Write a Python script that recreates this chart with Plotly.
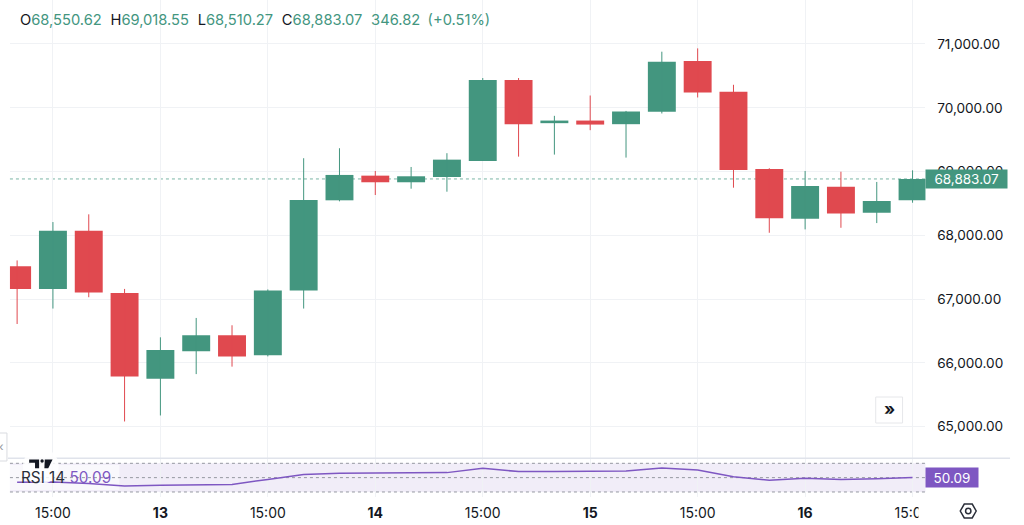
import plotly.graph_objects as go
import pandas as pd
import math

# ---------------- data ----------------
times = list(pd.date_range("2024-06-12 11:00", periods=26, freq="4h"))

opens = [67515, 67158, 68070, 67095, 65750, 66179, 66431, 66116, 67133, 68548,
         68935, 68831, 68914, 69166, 70434, 69758, 69799, 69742, 69936, 70733,
         70250, 69040, 68259, 68762, 68353, 68550.62]
highs = [67605, 68207, 68328, 67158, 66399, 66703, 66588, 67150, 69208, 69365,
         69008, 69071, 69287, 70466, 70466, 69873, 70192, 69950, 70879, 70931,
         70360, 69051, 69008, 68997, 68836, 69018.55]
lows = [66608, 66850, 67028, 65079, 65173, 65822, 65939, 66100, 66850, 68532,
        68631, 68730, 68683, 69166, 69233, 69265, 69648, 69218, 69910, 70161,
        68746, 68039, 68092, 68117, 68191, 68510.27]
closes = [67158, 68070, 67102, 65786, 66200, 66431, 66100, 67133, 68553, 68946,
          68831, 68925, 69186, 70434, 69742, 69799, 69736, 69941, 70722, 70239,
          69024, 68265, 68773, 68343, 68536.25, 68883.07]
rsi = [43.5, 44.0, 42.0, 38.5, 39.3, 40.0, 40.6, 47.5, 54.5, 56.0,
       56.3, 56.5, 57.0, 63.1, 58.4, 58.5, 58.4, 59.3, 63.6, 60.7,
       51.4, 46.4, 49.0, 47.3, 48.5, 50.09]

tick_idx = [1, 4, 7, 10, 13, 16, 19, 22, 25]
tick_labels = ["15:00", "<b>13</b>", "15:00", "<b>14</b>", "15:00",
               "<b>15</b>", "15:00", "<b>16</b>", "15:00"]
price_ticks = [65000, 66000, 67000, 68000, 69000, 70000, 71000]
rsi_levels = [30, 50, 70]

# ---------------- style ----------------
W, H = 1024, 525
UP = "#43967f"
DOWN = "#e0494f"
PURPLE = "#7e57c2"
TXT = "#131722"
GRID = "#f0f2f5"
FONT = "Inter"
step = pd.Timedelta(hours=4)

X0, X1 = 10 / W, 930 / W
def py(p):  # pixel y -> paper y
    return 1 - p / H
def px(p):
    return p / W

colors = [UP if c >= o else DOWN for o, c in zip(opens, closes)]
base = [min(o, c) for o, c in zip(opens, closes)]
body = [abs(c - o) for o, c in zip(opens, closes)]

fig = go.Figure()

# wicks
for col in (UP, DOWN):
    xs, ys = [], []
    for t, o, h, l, c in zip(times, opens, highs, lows, closes):
        if (c >= o) == (col == UP):
            xs += [t, t, None]
            ys += [l, h, None]
    fig.add_trace(go.Scatter(x=xs, y=ys, mode="lines", line=dict(color=col, width=1),
                             hoverinfo="skip", xaxis="x", yaxis="y"))

# bodies
fig.add_trace(go.Bar(x=times, y=body, base=base,
                     width=0.78 * step.total_seconds() * 1000,
                     marker=dict(color=colors, line=dict(width=0)),
                     xaxis="x", yaxis="y"))

# RSI
fig.add_trace(go.Scatter(x=times, y=rsi, mode="lines",
                         line=dict(color=PURPLE, width=1.5),
                         xaxis="x2", yaxis="y2"))

xr = [str(times[0] - 0.2 * step), str(times[0] + 25.36 * step)]
tickvals = [times[i] for i in tick_idx]

shapes = []
# RSI band
shapes.append(dict(type="rect", xref="paper", yref="y2", x0=X0, x1=X1,
                   y0=rsi_levels[0], y1=rsi_levels[-1],
                   fillcolor="rgba(126,87,194,0.11)", line=dict(width=0), layer="below"))
# RSI legend background
shapes.append(dict(type="rect", xref="paper", yref="paper", x0=X0, x1=px(120),
                   y0=py(490), y1=py(465), fillcolor="rgba(255,255,255,0.6)",
                   line=dict(width=0), layer="below"))
for lv in rsi_levels:
    shapes.append(dict(type="line", xref="paper", yref="y2", x0=X0, x1=X1, y0=lv, y1=lv,
                       line=dict(color="#9598a1", width=1, dash="3px,3px"), layer="below"))
# last price dotted line
shapes.append(dict(type="line", xref="paper", yref="y", x0=X0, x1=X1,
                   y0=closes[-1], y1=closes[-1],
                   line=dict(color="rgba(67,150,127,0.7)", width=1, dash="dot"), layer="below"))
# pane separator
shapes.append(dict(type="line", xref="paper", yref="paper", x0=px(8), x1=px(1015),
                   y0=py(458.3), y1=py(458.3), line=dict(color="#e0e3eb", width=1.5)))
# left collapse tab
shapes.append(dict(type="rect", xref="paper", yref="paper", x0=px(-4), x1=px(7),
                   y0=py(461), y1=py(433), fillcolor="white",
                   line=dict(color="#d9dbe0", width=1)))
# >> button
shapes.append(dict(type="rect", xref="paper", yref="paper", x0=px(880), x1=px(907),
                   y0=py(423), y1=py(397), fillcolor="white",
                   line=dict(color="#e6e7ea", width=1)))
# TradingView logo
shapes.append(dict(type="circle", xref="paper", yref="paper", x0=px(23), x1=px(59),
                   y0=py(484), y1=py(448), fillcolor="rgba(255,255,255,0.85)",
                   line=dict(width=0)))
def path(pts):
    return "M " + " L ".join(f"{px(a)},{py(b)}" for a, b in pts) + " Z"
shapes.append(dict(type="path", xref="paper", yref="paper",
                   path=path([(29.3, 459.5), (39.3, 459.5), (39.3, 468.3), (35.2, 468.3),
                              (35.2, 462.7), (29.3, 462.7)]),
                   fillcolor="#131722", line=dict(width=0)))
shapes.append(dict(type="circle", xref="paper", yref="paper", x0=px(40.6), x1=px(44.0),
                   y0=py(462.7), y1=py(459.3), fillcolor="#131722", line=dict(width=0)))
shapes.append(dict(type="path", xref="paper", yref="paper",
                   path=path([(45, 459.5), (52.8, 459.5), (48.5, 468.3), (44.6, 468.3)]),
                   fillcolor="#131722", line=dict(width=0)))
# settings icon (hexagon + circle)
cx, cy, r = 973, 511, 8
hexpts = [(cx + r * math.cos(math.radians(a)), cy + r * math.sin(math.radians(a)))
          for a in range(0, 360, 60)]
shapes.append(dict(type="path", xref="paper", yref="paper", path=path(hexpts),
                   line=dict(color="#2a2e39", width=1.5)))
shapes.append(dict(type="circle", xref="paper", yref="paper", x0=px(cx - 2.7), x1=px(cx + 2.7),
                   y0=py(cy + 2.7), y1=py(cy - 2.7), line=dict(color="#2a2e39", width=1.5)))

# annotations
def fmt(v):
    return f"{v:,.2f}"
chg = closes[-1] - closes[-2]
pct = chg / closes[-2] * 100
g = lambda s: f"<span style='color:{UP}'>{s}</span>"
sp = "\u2002\u200a"
legend_txt = (f"O{g(fmt(opens[-1]))}{sp}H{g(fmt(highs[-1]))}{sp}L{g(fmt(lows[-1]))}{sp}"
              f"C{g(fmt(closes[-1]))}{sp}{g(f'{chg:,.2f}' + chr(0x2002) + f'({pct:+.2f}%)')}")

annotations = [
    dict(xref="paper", yref="paper", x=px(18), y=py(20), xanchor="left", yanchor="middle",
         text=legend_txt, showarrow=False, font=dict(family=FONT, size=14.7, color=TXT)),
    dict(xref="paper", yref="paper", x=px(19), y=py(477.5), xanchor="left", yanchor="middle",
         text=f"RSI 14 <span style='color:{PURPLE}'>{rsi[-1]:.2f}</span>", showarrow=False,
         font=dict(family=FONT, size=15.3, color="#2a2e39")),
    dict(xref="paper", yref="y", x=px(929.5), y=closes[-1], xanchor="left", yanchor="middle",
         text=fmt(closes[-1]), showarrow=False, bgcolor=UP, borderpad=2,
         width=77, height=14, font=dict(family=FONT, size=13.5, color="white")),
    dict(xref="paper", yref="y2", x=px(929.5), y=rsi[-1], xanchor="left", yanchor="middle",
         text=f"{rsi[-1]:.2f}", showarrow=False, bgcolor=PURPLE, borderpad=2,
         width=48, height=15, font=dict(family=FONT, size=13.5, color="white")),
    dict(xref="paper", yref="paper", x=px(893.5), y=py(409), xanchor="center", yanchor="middle",
         text="<b>»</b>", showarrow=False, font=dict(family=FONT, size=17, color=TXT)),
    dict(xref="paper", yref="paper", x=px(2), y=py(446), xanchor="center", yanchor="middle",
         text="‹", showarrow=False, font=dict(family=FONT, size=12, color="#9598a1")),
    # white mask clipping the last time label at the price-axis edge
    dict(xref="paper", yref="paper", x=px(923), y=py(512), xanchor="left", yanchor="middle",
         text=" ", showarrow=False, bgcolor="white", width=30, height=22, borderpad=0),
]

fig.update_layout(
    width=W, height=H, margin=dict(l=0, r=0, t=0, b=0),
    paper_bgcolor="white", plot_bgcolor="white", showlegend=False,
    font=dict(family=FONT, size=13, color=TXT),
    xaxis=dict(domain=[X0, X1], anchor="y", type="date", range=xr, tickvals=tickvals,
               showticklabels=False, showgrid=True, gridcolor=GRID, gridwidth=1,
               zeroline=False, showline=False, ticks=""),
    yaxis=dict(domain=[py(458), 1], anchor="x", side="right", range=[64506, 71690],
               tickvals=price_ticks, tickformat=",.2f", showgrid=True, gridcolor=GRID,
               zeroline=False, showline=False, ticks="outside", ticklen=8,
               tickcolor="rgba(0,0,0,0)", tickfont=dict(family=FONT, size=13.6, color=TXT)),
    xaxis2=dict(domain=[X0, X1], anchor="y2", type="date", range=xr, tickvals=tickvals,
                ticktext=tick_labels, showgrid=True, gridcolor=GRID, zeroline=False,
                showline=False, ticks="outside", ticklen=3, tickcolor="rgba(0,0,0,0)",
                tickfont=dict(family=FONT, size=14, color=TXT)),
    yaxis2=dict(domain=[py(497), py(459)], anchor="x2", side="right", range=[23, 76],
                showticklabels=False, showgrid=False, zeroline=False, showline=False),
    shapes=shapes, annotations=annotations,
)

fig.write_html("out.html")
